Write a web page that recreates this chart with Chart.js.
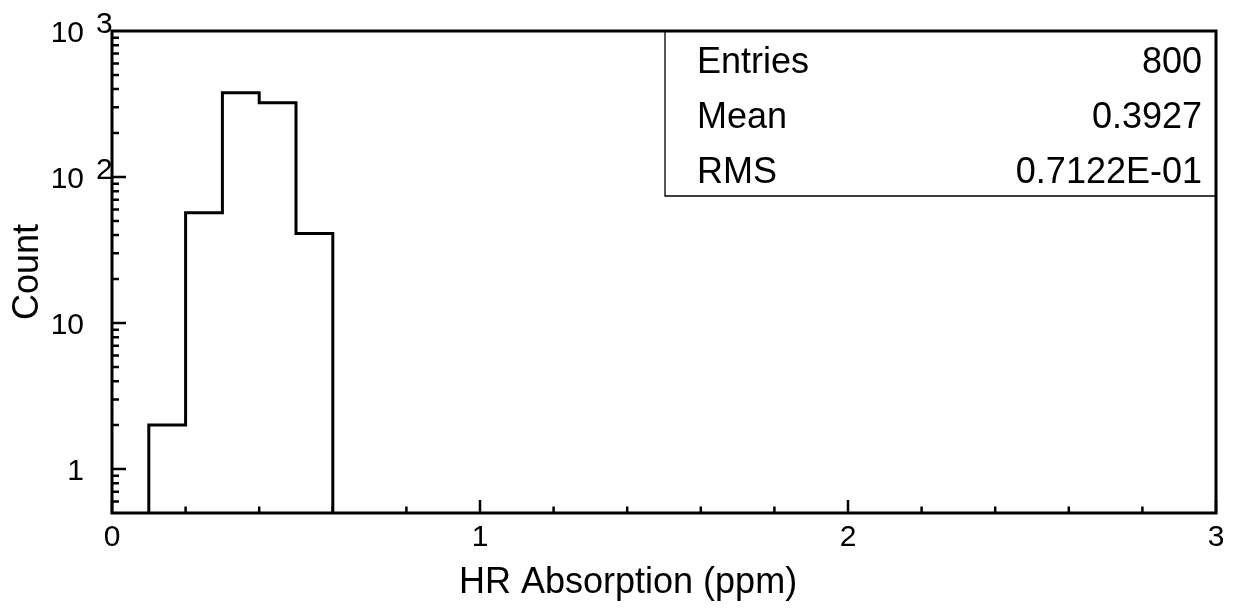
<!DOCTYPE html>
<html>
<head>
<meta charset="utf-8">
<script src="https://cdn.jsdelivr.net/npm/chart.js@4.4.0/dist/chart.umd.min.js"></script>
<style>
  html, body { margin: 0; padding: 0; background: #fff; }
  #wrap { width: 1236px; height: 610px; }
</style>
</head>
<body>
<div id="wrap"><canvas id="c" width="1236" height="610"></canvas></div>
<script>
// ---- data ----
const binEdges = [0.1, 0.2, 0.3, 0.4, 0.5, 0.6];
const binCounts = [2, 57, 378, 322, 41];
const xMajorTicks = [0, 1, 2, 3];
const xTickLabels = ['0', '1', '2', '3'];
const yDecades = [1, 10, 100, 1000];
const yTickBase = ['1', '10', '10', '10'];
const yTickExp = ['', '', '2', '3'];
const statLabels = ['Entries', 'Mean', 'RMS'];
const statValues = ['800', '0.3927', '0.7122E-01'];
const xTitle = 'HR Absorption (ppm)';
const yTitle = 'Count';
const yMin = 0.5, yMax = 1000, xMin = 0, xMax = 3;

// build stepped histogram outline (stepped:'before' => horizontal at previous y, then vertical)
const lastEdge = binEdges[binEdges.length - 1];
const histPoints = [{x: binEdges[0], y: yMin}];
binCounts.forEach((c, i) => histPoints.push({x: binEdges[i], y: c}));
histPoints.push({x: lastEdge, y: binCounts[binCounts.length - 1]});
histPoints.push({x: lastEdge, y: yMin});

const FONT = '"Liberation Sans", Arial, Helvetica, sans-serif';

function txt(ctx, s, x, y, size, align) {
  ctx.save();
  ctx.font = size + 'px ' + FONT;
  ctx.textBaseline = 'alphabetic';
  ctx.textAlign = align || 'left';
  ctx.fillText(s, x, y);
  ctx.restore();
}

const frame = {
  id: 'rootFrame',
  afterDatasetsDraw(chart) {
    const ctx = chart.ctx;
    const xs = chart.scales.x, ys = chart.scales.y;
    const L = xs.getPixelForValue(xMin), R = xs.getPixelForValue(xMax);
    const T = ys.getPixelForValue(yMax), B = ys.getPixelForValue(yMin);
    ctx.save();
    ctx.strokeStyle = '#000';
    ctx.fillStyle = '#000';

    // stats box
    const boxL = 665, boxB = 196;
    ctx.lineWidth = 1.3;
    ctx.beginPath();
    ctx.moveTo(boxL, T); ctx.lineTo(boxL, boxB); ctx.lineTo(R, boxB);
    ctx.stroke();
    const rowBase = [73, 128, 183];
    statLabels.forEach((s, i) => {
      txt(ctx, s, 697, rowBase[i], 36, 'left');
      txt(ctx, statValues[i], 1202, rowBase[i], 36, 'right');
    });

    // ticks
    ctx.lineWidth = 2.5;
    ctx.lineCap = 'butt';
    ctx.beginPath();
    for (let v = 0; v <= 3.0001; v += 0.2) {
      const px = xs.getPixelForValue(v);
      const major = Math.abs(v - Math.round(v)) < 1e-6;
      ctx.moveTo(px, B); ctx.lineTo(px, B - (major ? 13 : 6.5));
    }
    for (let d = -1; d <= 2; d++) {
      for (let k = 1; k <= 9; k++) {
        const v = k * Math.pow(10, d);
        if (v < yMin - 1e-9 || v > yMax) continue;
        if (v === yMin) continue;
        const py = ys.getPixelForValue(v);
        ctx.moveTo(L, py); ctx.lineTo(L + (k === 1 ? 14 : 7), py);
      }
    }
    ctx.stroke();

    // frame
    ctx.lineWidth = 3;
    ctx.lineCap = 'square';
    ctx.strokeRect(L, T, R - L, B - T);

    // x tick labels
    xMajorTicks.forEach((v, i) => {
      const px = xs.getPixelForValue(v);
      txt(ctx, xTickLabels[i], px, 546, 30, 'center');
    });
    // y tick labels
    yDecades.forEach((v, i) => {
      const py = ys.getPixelForValue(v);
      txt(ctx, yTickBase[i], 84, py + 11, 30, 'right');
      if (yTickExp[i]) txt(ctx, yTickExp[i], 96, py + 2, 30, 'left');
    });

    // axis titles
    txt(ctx, xTitle, 459, 593, 36, 'left');
    ctx.save();
    ctx.font = '36px ' + FONT;
    ctx.textAlign = 'center';
    ctx.textBaseline = 'alphabetic';
    ctx.translate(38, 272);
    ctx.rotate(-Math.PI / 2);
    ctx.fillText(yTitle, 0, 0);
    ctx.restore();

    ctx.restore();
  }
};

new Chart(document.getElementById('c'), {
  type: 'line',
  data: {
    datasets: [{
      data: histPoints,
      stepped: 'before',
      borderColor: '#000',
      borderWidth: 3,
      pointRadius: 0,
      fill: false,
      tension: 0
    }]
  },
  options: {
    responsive: false,
    animation: false,
    devicePixelRatio: 1,
    layout: { padding: { left: 112, right: 20, top: 31, bottom: 97 } },
    plugins: { legend: { display: false }, tooltip: { enabled: false } },
    scales: {
      x: { type: 'linear', min: xMin, max: xMax, display: false },
      y: { type: 'logarithmic', min: yMin, max: yMax, display: false }
    }
  },
  plugins: [frame]
});
</script>
</body>
</html>
